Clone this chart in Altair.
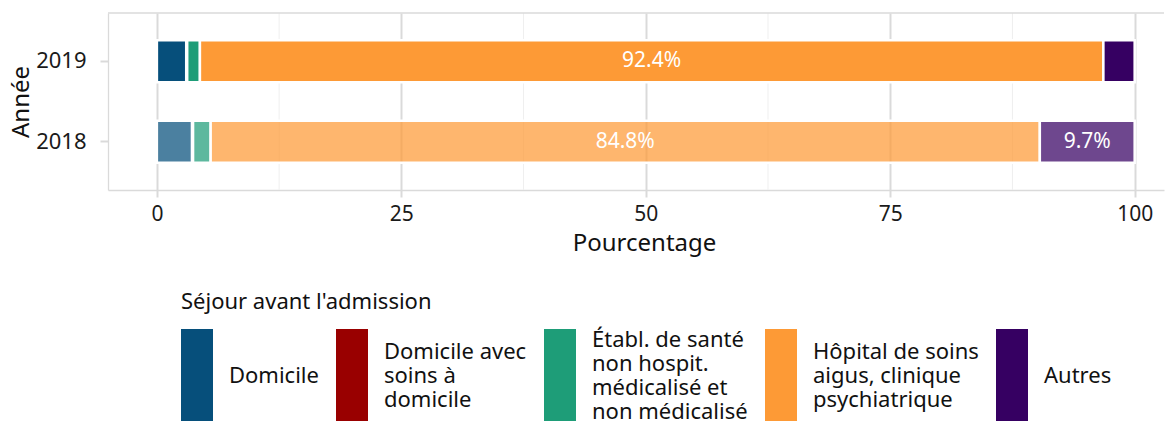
import json
import altair as alt
import pandas as pd

# ---- data ----
years = ["2019", "2018"]
categories = [
    "Domicile",
    "Domicile avec\nsoins à\ndomicile",
    "Établ. de santé\nnon hospit.\nmédicalisé et\nnon médicalisé",
    "Hôpital de soins\naigus, clinique\npsychiatrique",
    "Autres",
]
colors = ["#064f7b", "#990000", "#1e9d78", "#fd9a36", "#360062"]
pct_2019 = [3.0, 0.1, 1.3, 92.4, 3.2]
pct_2018 = [3.6, 0.1, 1.8, 84.8, 9.7]
x_ticks = [0, 25, 50, 75, 100]
x_minor = [12.5, 37.5, 62.5, 87.5]

rows = []
for yr, vals in zip(years, [pct_2019, pct_2018]):
    start = 0.0
    for i, (cat, v) in enumerate(zip(categories, vals)):
        rows.append({
            "year": yr, "cat": cat, "order": i, "pct": v,
            "start": start, "end": start + v, "mid": start + v / 2,
            "label": f"{v:.1f}%",
        })
        start += v
df = pd.DataFrame(rows)
minor_df = pd.DataFrame({"v": x_minor})

# legend labels: vertically centred multi-line blocks (half line steps)
BLANK = "\u200b"
MAXL = 4
padded = []
for c in categories:
    lines = c.split("\n")
    out = [BLANK] * (MAXL - len(lines))
    for j, ln in enumerate(lines):
        if j:
            out.append(BLANK)
        out.append(ln)
    out += [BLANK] * (2 * MAXL - 1 - len(out))
    padded.append(out)
label_expr = "{}[indexof({}, datum.label)]".format(
    json.dumps(padded, ensure_ascii=False), json.dumps(categories, ensure_ascii=False)
)

W, H = 1056, 177
FONT = "Noto Sans"
GRID = "#dadada"

xscale = alt.Scale(domain=[-5, 103], nice=False, zero=False)
xaxis = alt.Axis(values=x_ticks, title="Pourcentage", format="d", titleX=536)
yscale = alt.Scale(domain=years, paddingInner=0.48, paddingOuter=0.34)
yaxis = alt.Axis(title="Année", bandPosition=0.5)

minor = alt.Chart(minor_df).mark_rule(color="#efefef", strokeWidth=1).encode(
    x=alt.X("v:Q", scale=xscale, axis=xaxis),
    y=alt.value(0), y2=alt.value(H),
)

bars = alt.Chart(df).mark_bar(stroke="white", strokeWidth=2.5).encode(
    y=alt.Y("year:N", scale=yscale, axis=yaxis, sort=years),
    x=alt.X("start:Q", scale=xscale, axis=xaxis),
    x2="end:Q",
    color=alt.Color(
        "cat:N",
        scale=alt.Scale(domain=categories, range=colors),
        sort=categories,
        legend=alt.Legend(
            title="Séjour avant l'admission",
            orient="none", legendX=73, legendY=279,
            direction="horizontal", columns=5,
            symbolType="M-1,-0.6875L1,-0.6875L1,5.1875L-1,5.1875Z",
            symbolSize=1024, symbolStrokeWidth=0,
            labelOffset=16, columnPadding=17,
            labelExpr=label_expr,
            labelBaseline="middle", labelLimit=400,
            labelFont=FONT, labelFontSize=22, labelColor="#111111",
            titleFont=FONT, titleFontSize=22, titleFontWeight="normal",
            titleColor="#111111", titlePadding=10, titleAnchor="start",
            titleLimit=1000,
        ),
    ),
    order=alt.Order("order:Q"),
    fillOpacity=alt.FillOpacity("year:N", scale=alt.Scale(domain=years, range=[1.0, 0.72]), legend=None),
)

labels = alt.Chart(df).transform_filter("datum.pct > 5").mark_text(
    color="white", font=FONT, fontSize=21, baseline="middle", align="center"
).encode(
    y=alt.Y("year:N", scale=yscale, axis=yaxis, sort=years),
    x=alt.X("mid:Q", scale=xscale, axis=xaxis),
    text="label:N",
)

top_border = alt.Chart(pd.DataFrame({"a": [0]})).mark_rule(color=GRID, strokeWidth=1.3).encode(
    x=alt.value(0), x2=alt.value(W), y=alt.value(0)
)

chart = alt.layer(minor, bars, labels, top_border).properties(
    width=W, height=H,
    autosize=alt.AutoSizeParams(type="none"),
    padding={"left": 100, "top": 5, "right": 2, "bottom": 231},
).configure(
    style={"guide-label": {"lineHeight": 12}}
).configure_view(stroke=None).configure_axis(
    gridColor=GRID, gridWidth=2,
    domainColor=GRID, domainWidth=1.3,
    tickColor=GRID, tickWidth=2, tickSize=7,
    labelFont=FONT, labelFontSize=21, labelColor="#1a1a1a",
    titleFont=FONT, titleFontSize=24, titleFontWeight="normal", titleColor="#111111",
).configure_axisX(labelPadding=6, titlePadding=7).configure_axisY(
    labelPadding=14, titlePadding=2, tickSize=8, labelFontSize=22
)

chart.save("out.html", embed_options={"renderer": "svg", "actions": False})
